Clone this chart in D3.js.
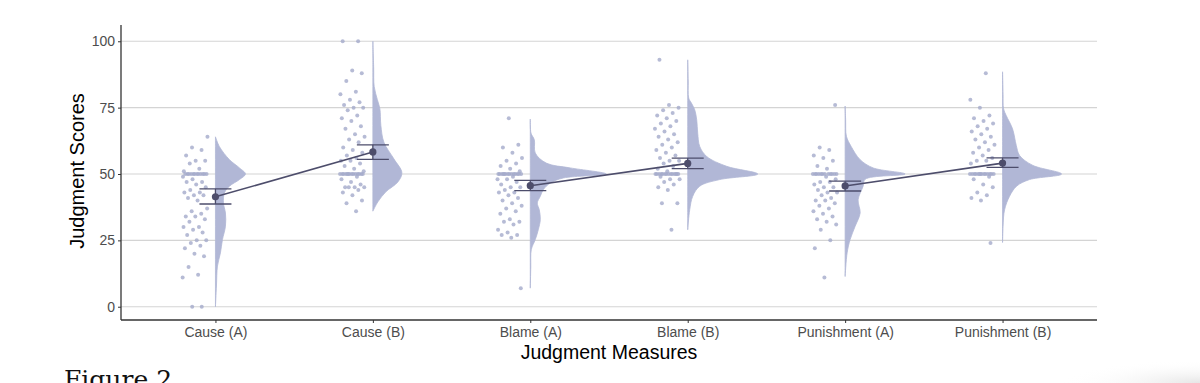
<!DOCTYPE html>
<html>
<head>
<meta charset="utf-8">
<script src="https://cdn.jsdelivr.net/npm/d3@7"></script>
<style>
	html, body { margin: 0; padding: 0; background: #fff; }
	svg { display: block; }
</style>
</head>
<body>
<div id="chart"></div>
<script>
var categories = ["Cause (A)", "Cause (B)", "Blame (A)", "Blame (B)", "Punishment (A)", "Punishment (B)"];
var yTicks = [0, 25, 50, 75, 100];

// condition means and interval ends
var means = [41.4, 58.3, 45.6, 54.0, 45.5, 54.1];
var ciLow = [38.7, 55.5, 43.7, 52.0, 43.6, 52.5];
var ciHigh = [44.4, 61.0, 47.6, 56.0, 47.3, 56.1];

// raw responses (jittered dots)
var causeA = [64, 60, 59, 57, 55, 55, 54, 52, 51, 50, 50, 50, 50, 50, 50, 50, 50, 50, 50, 50, 50, 49, 48, 47, 47, 46, 45, 44, 43, 43, 42, 42, 41, 40, 37, 36, 35, 34, 34, 33, 32, 30, 30, 29, 28, 27, 25, 25, 24, 23, 22, 20, 19, 15, 12, 11, 0, 0];
var causeB = [100, 100, 89, 88, 85, 81, 80, 78, 77, 76, 75, 75, 74, 72, 71, 70, 68, 67, 65, 64, 63, 62, 60, 59, 58, 57, 56, 55, 55, 54, 53, 52, 51, 50, 50, 50, 50, 50, 50, 50, 50, 50, 50, 50, 50, 50, 50, 49, 48, 47, 46, 45, 45, 45, 45, 44, 43, 42, 40, 39, 36];
var blameA = [71, 61, 60, 58, 56, 55, 54, 53, 52, 51, 50, 50, 50, 50, 50, 50, 50, 50, 50, 50, 50, 50, 50, 50, 49, 48, 48, 47, 46, 45, 45, 44, 43, 43, 42, 41, 40, 39, 38, 37, 36, 35, 33, 32, 32, 31, 29, 28, 27, 27, 26, 7];
var blameB = [93, 76, 75, 74, 73, 72, 71, 70, 69, 68, 67, 66, 65, 64, 63, 62, 61, 60, 59, 58, 57, 56, 55, 55, 54, 53, 52, 51, 50, 50, 50, 50, 50, 50, 50, 50, 50, 50, 50, 50, 50, 50, 49, 48, 48, 47, 46, 45, 44, 39, 39, 29];
var punishA = [76, 60, 59, 57, 56, 55, 53, 52, 50, 50, 50, 50, 50, 50, 50, 50, 50, 50, 50, 50, 49, 48, 47, 47, 46, 45, 45, 44, 43, 43, 42, 41, 40, 40, 39, 38, 37, 36, 35, 34, 33, 32, 31, 29, 25, 22, 11];
var punishB = [88, 78, 75, 72, 71, 70, 69, 68, 67, 66, 65, 64, 63, 62, 61, 60, 59, 58, 57, 56, 55, 55, 54, 50, 50, 50, 50, 50, 50, 50, 50, 50, 50, 50, 50, 50, 50, 49, 48, 46, 45, 43, 42, 41, 40, 24];

// half-violin density profiles: [score, density]
var densCauseA = [[0, 0], [7.8, 0.001], [15.3, 0.002], [20.3, 0.005], [25.3, 0.007], [30.3, 0.010], [35.3, 0.010], [39.1, 0.008], [42.9, 0.009], [45.4, 0.014], [47.9, 0.024], [50, 0.030], [52.3, 0.024], [55.4, 0.014], [60.3, 0.004], [64, 0]];
var densCauseB = [[36, 0], [39.5, 0.005], [43.3, 0.013], [47, 0.025], [50.5, 0.029], [55.7, 0.021], [62, 0.011], [68.3, 0.008], [74.6, 0.007], [78, 0.0045], [83, 0.0013], [90, 0.0008], [100, 0]];
var densBlameA = [[7, 0], [15, 0.0005], [21.5, 0.001], [25.3, 0.005], [29, 0.008], [32.8, 0.010], [36.5, 0.009], [39.1, 0.007], [41.6, 0.010], [44.1, 0.013], [46.6, 0.020], [48.5, 0.033], [50, 0.076], [52.3, 0.040], [54.1, 0.016], [57.9, 0.005], [62.9, 0.004], [65.4, 0.0007], [70.7, 0]];
var densBlameB = [[29, 0], [36.5, 0.002], [41.6, 0.005], [45.4, 0.012], [47.9, 0.032], [50, 0.070], [52.9, 0.039], [56.6, 0.019], [60.4, 0.012], [65.4, 0.010], [70.4, 0.009], [74.2, 0.007], [76.7, 0.0037], [78.6, 0.001], [85, 0.0005], [93, 0]];
var densPunishA = [[11.4, 0], [20.3, 0.002], [25.3, 0.005], [30.3, 0.010], [35.3, 0.015], [40.3, 0.013], [45.4, 0.018], [48, 0.020], [50, 0.060], [52.3, 0.028], [55.4, 0.015], [60.4, 0.006], [64.2, 0.0013], [70.4, 0.0005], [75.6, 0]];
var densPunishB = [[24.2, 0], [30.3, 0.0005], [36.5, 0.002], [41.6, 0.007], [45.4, 0.014], [47.9, 0.027], [50, 0.059], [53.3, 0.030], [57, 0.017], [60.8, 0.0137], [67, 0.010], [72, 0.0037], [74.6, 0.001], [80, 0.0005], [88.5, 0]];

var points = [causeA, causeB, blameA, blameB, punishA, punishB];
var densities = [densCauseA, densCauseB, densBlameA, densBlameB, densPunishA, densPunishB];
var pairs = [[0, 1], [2, 3], [4, 5]];

var width = 1200,
	height = 383,
	violinColor = "#b1b7d6",
	dotColor = "#a4aaca",
	meanColor = "#4d4d6b",
	sans = "'Liberation Sans', Arial, sans-serif";

var svg = d3.select("#chart").append("svg")
	.attr("width", width)
	.attr("height", height);

var x = d3.scalePoint()
	.domain(categories)
	.range([121, 1097])
	.padding(0.6);

var y = d3.scaleLinear()
	.domain([-5, 105])
	.range([320, 28]);

var w = d3.scaleLinear()
	.domain([0, 0.1])
	.range([0, 100]);

// faint page shadow in the lower right corner
var grad = svg.append("defs").append("radialGradient")
	.attr("id", "corner")
	.attr("cx", 1).attr("cy", 1).attr("r", 1);
grad.append("stop").attr("offset", 0).attr("stop-color", "#e6e6e6");
grad.append("stop").attr("offset", 1).attr("stop-color", "#fff").attr("stop-opacity", 0);
svg.append("rect")
	.attr("x", 1060).attr("y", 360)
	.attr("width", 140).attr("height", 23)
	.attr("fill", "url(#corner)");

// gridlines
svg.append("g")
	.selectAll("line")
	.data(yTicks)
	.join("line")
		.attr("x1", 121)
		.attr("x2", 1097)
		.attr("y1", function(d) { return y(d); })
		.attr("y2", function(d) { return y(d); })
		.attr("stroke", "#d4d4d4")
		.attr("stroke-width", 1.1);

// half violins
var area = d3.area()
	.curve(d3.curveCatmullRom)
	.y(function(d) { return y(d[0]); });

densities.forEach(function(dens, i) {
	var cx = x(categories[i]);
	area.x0(cx).x1(function(d) { return cx + w(d[1]); });
	svg.append("path")
		.attr("d", area(dens))
		.attr("fill", violinColor)
		.attr("stroke", violinColor)
		.attr("stroke-width", 0.8);
});

// jittered dots, spread left of each violin
points.forEach(function(vals, i) {
	var cx = x(categories[i]);
	svg.append("g")
		.selectAll("circle")
		.data(vals)
		.join("circle")
			.attr("cx", function(d, j) { return cx - 8 - ((j * 0.618034 + i * 0.27) % 1) * 25; })
			.attr("cy", function(d) { return y(d); })
			.attr("r", 2)
			.attr("fill", dotColor)
			.attr("opacity", 0.8);
});

// lines joining A and B means
svg.append("g")
	.selectAll("line")
	.data(pairs)
	.join("line")
		.attr("x1", function(d) { return x(categories[d[0]]); })
		.attr("y1", function(d) { return y(means[d[0]]); })
		.attr("x2", function(d) { return x(categories[d[1]]); })
		.attr("y2", function(d) { return y(means[d[1]]); })
		.attr("stroke", meanColor)
		.attr("stroke-width", 1.6);

// error bars and means
categories.forEach(function(c, i) {
	var cx = x(c),
		g = svg.append("g").attr("stroke", meanColor).attr("stroke-width", 1.3);
	g.append("line").attr("x1", cx).attr("x2", cx).attr("y1", y(ciLow[i])).attr("y2", y(ciHigh[i]));
	g.append("line").attr("x1", cx - 16).attr("x2", cx + 16).attr("y1", y(ciLow[i])).attr("y2", y(ciLow[i]));
	g.append("line").attr("x1", cx - 16).attr("x2", cx + 16).attr("y1", y(ciHigh[i])).attr("y2", y(ciHigh[i]));
	svg.append("circle")
		.attr("cx", cx)
		.attr("cy", y(means[i]))
		.attr("r", 3.6)
		.attr("fill", meanColor);
});

// axes
var yAxis = svg.append("g")
	.attr("transform", "translate(121,0)")
	.call(d3.axisLeft(y).tickValues(yTicks).tickSize(3).tickPadding(3));
yAxis.select(".domain").attr("d", "M0,25V320").attr("stroke", "#333").attr("stroke-width", 1.3);

var xAxis = svg.append("g")
	.attr("transform", "translate(0,320)")
	.call(d3.axisBottom(x).tickSize(3).tickPadding(4));
xAxis.select(".domain").attr("d", "M121,0H1097").attr("stroke", "#333").attr("stroke-width", 1.3);

svg.selectAll(".tick line").attr("stroke", "#333");
svg.selectAll(".tick text")
	.style("fill", "#4d4d4d")
	.style("font-family", sans)
	.style("font-size", "14px");

svg.append("text")
	.attr("x", x(categories[2]) + (x(categories[3]) - x(categories[2])) / 2)
	.attr("y", 359)
	.style("fill", "#000")
	.style("font-family", sans)
	.style("font-size", "19.5px")
	.style("text-anchor", "middle")
	.text("Judgment Measures");

svg.append("text")
	.attr("transform", "translate(84,171) rotate(-90)")
	.style("fill", "#000")
	.style("font-family", sans)
	.style("font-size", "20px")
	.style("text-anchor", "middle")
	.text("Judgment Scores");

// caption peeking in at the bottom
svg.append("text")
	.attr("x", 64)
	.attr("y", 388)
	.style("fill", "#111")
	.style("font-family", "'DejaVu Serif', 'Liberation Serif', serif")
	.style("font-size", "25px")
	.text("Figure 2");
</script>
</body>
</html>
